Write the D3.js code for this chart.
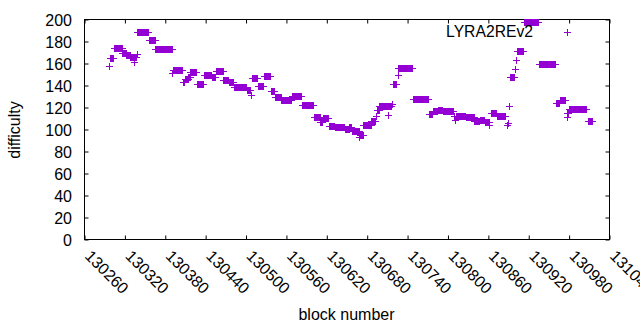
<!DOCTYPE html>
<html>
<head>
<meta charset="utf-8">
<script src="https://cdn.jsdelivr.net/npm/d3@7"></script>
<style>
  html, body { margin: 0; padding: 0; background: #fff; }
  svg { display: block; }
  text { font-family: "Liberation Sans", Arial, sans-serif; font-size: 16px; fill: #000; }
</style>
</head>
<body>
<svg id="chart" width="640" height="330"></svg>
<script>
// Runs of consecutive blocks sharing the same difficulty (start block, end block, value)
const runStart = [130297,130298,130304,130317,130323,130329,130335,130336,130338,130339,130356,130366,130391,130392,130407,130410,130415,130418,130428,130438,130450,130456,130467,130475,130483,130502,130508,130510,130518,130527,130538,130544,130553,130569,130584,130601,130611,130615,130624,130633,130648,130654,130658,130669,130670,130675,130687,130694,130695,130699,130712,130713,130717,130719,130726,130727,130749,130772,130778,130786,130793,130809,130811,130812,130827,130840,130848,130856,130862,130864,130873,130888,130890,130892,130893,130900,130902,130904,130913,130936,130961,130967,130977,130978,130980,131009];
const runEnd   = [130297,130303,130316,130322,130328,130334,130335,130337,130338,130355,130365,130390,130391,130406,130409,130414,130417,130427,130437,130449,130455,130466,130474,130482,130501,130507,130508,130517,130526,130537,130543,130552,130568,130583,130600,130610,130614,130623,130632,130647,130653,130657,130668,130669,130674,130686,130693,130694,130698,130711,130712,130716,130717,130724,130726,130748,130771,130777,130785,130792,130808,130810,130811,130826,130839,130847,130855,130861,130862,130872,130886,130888,130890,130892,130899,130900,130902,130912,130935,130960,130966,130974,130977,130979,131006,131014];
const runValue = [157,165,174,169,167.5,165.5,161,165.5,168,188,181,173,150.5,154,143,145.5,147,152,141,149.5,147,153,145,142.5,138.5,135.5,130.5,146.5,139,148.5,134.5,129.5,126.5,130,122,111,106,110,103,101.5,100,102,98,93,95,104,107,112,117,120.5,113,121,123,141,149,155.5,127.5,114,116,117.5,116.5,111.5,108.5,111.5,110.5,107.5,108.5,106,104,115,111.5,103.5,105.5,121,147,155,163,171,197,159.5,123.5,126.5,111,115,118.5,107.5];

const xTicks = [130260,130320,130380,130440,130500,130560,130620,130680,130740,130800,130860,130920,130980,131040];
const yTicks = [0,20,40,60,80,100,120,140,160,180,200];
const seriesName = "LYRA2REv2";
const xTitle = "block number";
const yTitle = "difficulty";

const color = "#9400d3";
const svg = d3.select("#chart");
svg.append("rect").attr("width",640).attr("height",330).attr("fill","#fff");

const L = 84.5, R = 609.5, T = 19.5, B = 239.5;
const x = d3.scaleLinear().domain([130260, 131040]).range([L, R]);
const y = d3.scaleLinear().domain([0, 200]).range([B, T]);

// points: one marker per block inside each run
const points = [];
runStart.forEach((s, i) => {
  d3.range(s, runEnd[i] + 1).forEach(b => points.push({b, v: runValue[i]}));
});

const plus = "M-3.5,0H3.5M0,-3.5V3.5";

// axes (ticks inward, mirrored)
const ax = svg.append("g").attr("transform", `translate(0,${B})`)
  .call(d3.axisBottom(x).tickValues(xTicks).tickSize(-4).tickFormat(d3.format("d")));
ax.select(".domain").remove();
ax.selectAll("line").attr("stroke","#000");
ax.selectAll("text")
  .attr("x", 0).attr("y", 0).attr("dy", null)
  .attr("transform", "translate(-1,17.5) rotate(45)")
  .attr("text-anchor", "start")
  .style("font-family", '"Liberation Sans", Arial, sans-serif').style("font-size","16px").attr("fill","#000");

const axTop = svg.append("g").attr("transform", `translate(0,${T})`)
  .call(d3.axisTop(x).tickValues(xTicks).tickSize(-4).tickFormat(""));
axTop.select(".domain").remove();
axTop.selectAll("line").attr("stroke","#000");

const ay = svg.append("g").attr("transform", `translate(${L},0)`)
  .call(d3.axisLeft(y).tickValues(yTicks).tickSize(-4).tickPadding(12.5));
ay.select(".domain").remove();
ay.selectAll("line").attr("stroke","#000");
ay.selectAll("text").attr("dy","0.36em")
  .style("font-family", '"Liberation Sans", Arial, sans-serif').style("font-size","16px").attr("fill","#000");

const ayR = svg.append("g").attr("transform", `translate(${R},0)`)
  .call(d3.axisRight(y).tickValues(yTicks).tickSize(-4).tickFormat(""));
ayR.select(".domain").remove();
ayR.selectAll("line").attr("stroke","#000");

// border
svg.append("rect").attr("x", L).attr("y", T).attr("width", R - L).attr("height", B - T)
  .attr("fill","none").attr("stroke","#000").attr("stroke-width",1);

// data markers
svg.append("g").attr("stroke", color).attr("stroke-width", 1).attr("fill","none")
  .attr("shape-rendering","crispEdges")
  .selectAll("path").data(points).join("path")
  .attr("transform", d => `translate(${x(d.b)},${y(d.v)})`)
  .attr("d", plus);

// legend
svg.append("text").attr("x", 533).attr("y", 37).attr("text-anchor","end").style("font-size","15.7px").text(seriesName);
svg.append("path").attr("d", plus).attr("stroke", color).attr("stroke-width",1)
  .attr("shape-rendering","crispEdges").attr("transform","translate(567,32)");

// titles
svg.append("text").attr("x", 346.5).attr("y", 320).attr("text-anchor","middle").text(xTitle);
svg.append("text").attr("transform","translate(20,130) rotate(-90)").attr("text-anchor","middle").text(yTitle);
</script>
</body>
</html>
